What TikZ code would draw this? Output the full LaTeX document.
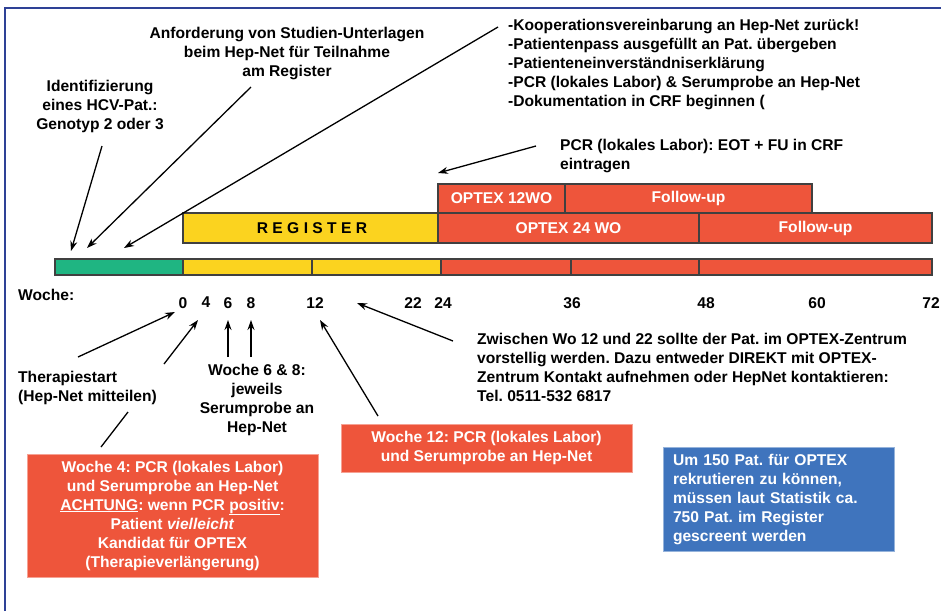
\documentclass[tikz,border=0pt]{standalone}
\usepackage{fontspec}
\setmainfont{Liberation Sans}
\usetikzlibrary{arrows.meta}
\definecolor{optexred}{HTML}{EE553B}
\definecolor{regyellow}{HTML}{FBD31F}
\definecolor{idgreen}{HTML}{1FB582}
\definecolor{infoblue}{HTML}{3F74BD}
\definecolor{frameblue}{HTML}{2E4196}
\frenchspacing
\begin{document}
\begin{tikzpicture}[x=1pt,y=-1pt,
    every node/.style={font=\bfseries\fontsize{15.6}{19}\selectfont, inner sep=0pt},
    barseg/.style={draw=black!75, line width=1.4pt},
    phase/.style={draw=black!75, line width=1.2pt, fill=optexred, text=white, minimum height=30pt},
    arr/.style={line width=1.3pt, -{Stealth[length=10pt,width=7pt]}},
    note/.style={fill=optexred, draw=optexred!55, line width=0.8pt, text=white, align=center}]
        \useasboundingbox (0,0) rectangle (941,611);
        \draw[frameblue, line width=2pt] (5,611) -- (5,8) -- (941,8);

        % time bar
        \draw[barseg, fill=idgreen] (55,259) rectangle (183,275);
        \draw[barseg, fill=regyellow] (183,259) rectangle (312,275);
        \draw[barseg, fill=regyellow] (312,259) rectangle (441,275);
        \draw[barseg, fill=optexred] (441,259) rectangle (571,275);
        \draw[barseg, fill=optexred] (571,259) rectangle (699,275);
        \draw[barseg, fill=optexred] (699,259) rectangle (932,275);

        % phases
        \node[phase, fill=regyellow, text=black, minimum width=258pt] (REG) at (312,228) {\addfontfeature{LetterSpace=28}REGISTER};
        \node[phase, minimum width=261pt] (OPT24) at (568.5,228) {OPTEX 24 WO};
        \node[phase, minimum width=233pt] (FU24) at (815.5,228) {Follow-up};
        \node[phase, minimum width=127pt, minimum height=29pt] (OPT12) at (501.5,198.5) {OPTEX 12WO};
        \node[phase, minimum width=247pt, minimum height=29pt] (FU12) at (688.5,198.5) {Follow-up};

        % weeks
        \node[anchor=north west] (WO) at (18,289) {Woche:};
        \foreach \w/\x in {0/183,4/206,6/228,8/251,12/315,22/413,24/443,36/572,48/706,60/817,72/931}
            \node[anchor=north] (w\w) at (\x,297) {\w};

        % texts above
        \node[anchor=north, align=center] (IDENT) at (100,80) {Identifizierung\\eines HCV-Pat.:\\Genotyp 2 oder 3};
        \node[anchor=north, align=center] (ANF) at (287,27) {Anforderung von Studien-Unterlagen\\beim Hep-Net f\"ur Teilnahme\\am Register};
        \node[anchor=north west, align=left] (KOOP) at (508,19) {-Kooperationsvereinbarung an Hep-Net zur\"uck!\\-Patientenpass ausgef\"ullt an Pat. \"ubergeben\\-Patienteneinverst\"andniserkl\"arung\\-PCR (lokales Labor) \& Serumprobe an Hep-Net\\-Dokumentation in CRF beginnen (};
        \node[anchor=north west, align=left] (EOT) at (560,139) {PCR (lokales Labor): EOT + FU in CRF\\eintragen};

        % texts below
        \node[anchor=north west, align=left] (START) at (18,371) {Therapiestart\\(Hep-Net mitteilen)};
        \node[anchor=north, align=center] (W68) at (257,364) {Woche 6 \& 8:\\jeweils\\Serumprobe an\\Hep-Net};
        \node[anchor=north west, align=left] (ZW) at (477,333) {Zwischen Wo 12 und 22 sollte der Pat. im OPTEX-Zentrum\\vorstellig werden. Dazu entweder DIREKT mit OPTEX-\\Zentrum Kontakt aufnehmen oder HepNet kontaktieren:\\Tel. 0511-532 6817};
        \node[note, minimum width=291pt, minimum height=123pt] (W4) at (172.5,515.5) {Woche 4: PCR (lokales Labor)\\und Serumprobe an Hep-Net\\\underline{ACHTUNG}: wenn PCR \underline{positiv}:\\Patient \textit{vielleicht}\\Kandidat f\"ur OPTEX\\(Therapieverl\"angerung)};
        \node[note, minimum width=291pt, minimum height=48pt] (W12) at (486.5,448) {Woche 12: PCR (lokales Labor)\\und Serumprobe an Hep-Net};
        \node[fill=infoblue, draw=infoblue!55, line width=0.8pt, text=white, align=left, text width=211pt, inner xsep=10pt, minimum height=104pt] (STAT) at (778.5,499) {Um 150 Pat. f\"ur OPTEX\\rekrutieren zu k\"onnen,\\m\"ussen laut Statistik ca.\\750 Pat. im Register\\gescreent werden};

        % arrow ends
        \coordinate (A1) at (102,146);  \coordinate (B1) at (71,251);
        \coordinate (A2) at (251,87);   \coordinate (B2) at (87,248);
        \coordinate (A3) at (498,27);   \coordinate (B3) at (124,248);
        \coordinate (A4) at (536,146);  \coordinate (B4) at (438,173);
        \coordinate (A5) at (78,357);   \coordinate (B5) at (175,312);
        \coordinate (A6) at (164,364);  \coordinate (B6) at (198,320);
        \coordinate (C6) at (101,447);  \coordinate (D6) at (128,412);
        \coordinate (A7) at (228,357);  \coordinate (B7) at (228,320);
        \coordinate (A8) at (251,357);  \coordinate (B8) at (251,320);
        \coordinate (A9) at (378,416);  \coordinate (B9) at (320,320);
        \coordinate (A10) at (453,341); \coordinate (B10) at (357,303);

        \draw[arr] (A1) -- (B1);
        \draw[arr] (A2) -- (B2);
        \draw[arr] (A3) -- (B3);
        \draw[arr] (A4) -- (B4);
        \draw[arr] (A5) -- (B5);
        \draw[arr] (A6) -- (B6);
        \draw[line width=1.3pt] (C6) -- (D6);
        \draw[arr] (A7) -- (B7);
        \draw[arr] (A8) -- (B8);
        \draw[arr] (A9) -- (B9);
        \draw[arr] (A10) -- (B10);
    \end{tikzpicture}
\end{document}
